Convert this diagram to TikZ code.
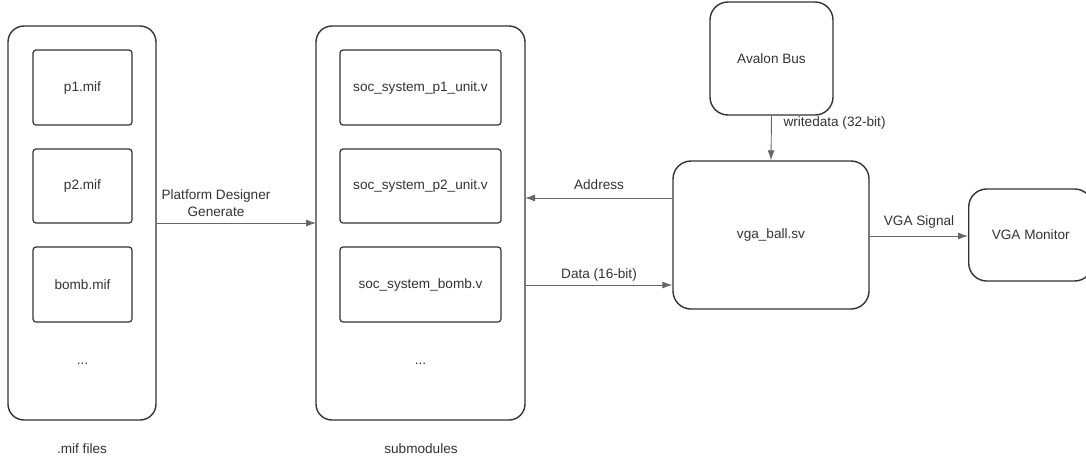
\documentclass[tikz,border=0pt]{standalone}
\usepackage{fontspec}
\setmainfont{Liberation Sans}
\usetikzlibrary{arrows.meta}
\definecolor{stroke}{HTML}{333333}
\definecolor{arr}{HTML}{666666}
\definecolor{txt}{HTML}{333333}
\begin{document}
\begin{tikzpicture}[x=1pt,y=-1pt,
  every node/.style={font=\fontsize{13.6}{17}\selectfont, text=txt},
  outer/.style={draw=stroke, line width=1.4pt, rounded corners=16pt},
  inner/.style={draw=stroke, line width=1.2pt, rounded corners=3pt},
  blk/.style={draw=stroke, line width=1.4pt, rounded corners=18pt},
  conn/.style={draw=arr, line width=0.9pt, -{Latex[length=10pt,width=7pt]}},
  lbl/.style={inner sep=1pt}]
\useasboundingbox (0,0) rectangle (1086,461);
% left group
\draw[outer] (8,26) rectangle (156,420);
\coordinate (L) at (156,223);
\node[inner, minimum width=99pt, minimum height=75pt] (p1) at (82.5,87.5) {p1.mif};
\node[inner, minimum width=99pt, minimum height=74pt] (p2) at (82.5,186) {p2.mif};
\node[inner, minimum width=99pt, minimum height=75pt] (bomb) at (82.5,284.5) {bomb.mif};
\node (ldots) at (82.5,364) {...};
\node (lcap) at (82,449) {.mif files};
% middle group
\draw[outer] (316,26) rectangle (525,420);
\coordinate (M) at (316,223);
\coordinate (Ma) at (525,198);
\coordinate (Md) at (525,285);
\node[inner, minimum width=161pt, minimum height=75pt] (s1) at (420.5,87.5) {soc\_system\_p1\_unit.v};
\node[inner, minimum width=161pt, minimum height=74pt] (s2) at (420.5,186) {soc\_system\_p2\_unit.v};
\node[inner, minimum width=161pt, minimum height=75pt] (s3) at (420.5,284.5) {soc\_system\_bomb.v};
\node (mdots) at (420.5,364) {...};
\node (mcap) at (421,449) {submodules};
% right blocks
\node[blk, minimum width=123pt, minimum height=113pt] (avalon) at (771.5,58.5) {Avalon Bus};
\node[blk, minimum width=196pt, minimum height=148pt] (vga) at (771,235) {vga\_ball.sv};
\node[blk, minimum width=124pt, minimum height=92pt, anchor=west] (mon) at (968,235) {VGA Monitor};
% connectors
\draw[conn] (L) -- (M);
\node[align=center, font=\fontsize{13.6}{17}\selectfont] (pdg) at (216,203) {Platform Designer\\Generate};
\draw[conn] (avalon.south) -- (vga.north);
\node[anchor=west] (wd) at (780,123) {writedata (32-bit)};
\draw[conn] (vga.west |- Ma) -- (Ma);
\node (addr) at (599,185) {Address};
\draw[conn] (Md) -- (vga.west |- Md);
\node (data) at (599,275) {Data (16-bit)};
\draw[conn] (vga.east |- 0,236) -- (mon.west |- 0,236);
\node (vsig) at (919,222) {VGA Signal};
\end{tikzpicture}
\end{document}
